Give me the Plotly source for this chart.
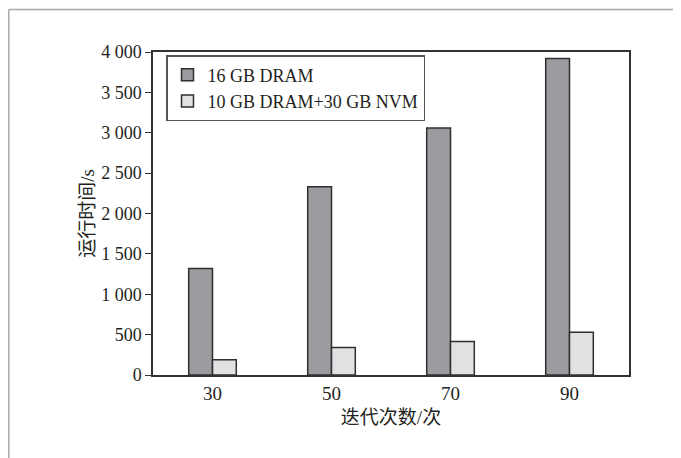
import plotly.graph_objects as go

categories = ["30", "50", "70", "90"]
dram_16gb = [1320, 2330, 3060, 3920]
dram_nvm = [190, 340, 415, 530]
series_names = ["16 GB DRAM", "10 GB DRAM+30 GB NVM"]
y_tickvals = [0, 500, 1000, 1500, 2000, 2500, 3000, 3500, 4000]
y_ticktext = ["0", "500", "1 000", "1 500", "2 000", "2 500", "3 000", "3 500", "4 000"]

FONT = "Liberation Serif, Times New Roman, Noto Sans CJK SC, serif"
TXT = "#231f20"

fig = go.Figure()
fig.add_trace(go.Bar(x=categories, y=dram_16gb, name=series_names[0],
                     marker=dict(color="#9b9ca0", line=dict(color="#2f2f2f", width=1.5))))
fig.add_trace(go.Bar(x=categories, y=dram_nvm, name=series_names[1],
                     marker=dict(color="#e0e1e3", line=dict(color="#2f2f2f", width=1.5))))

# page has an 8px body margin; work in figure coordinates
OFF = 8
W, H = 681, 458
L, R, T = 153 - OFF, 681 - (629 - OFF), 52 - OFF
B = H - (375 - OFF)
pw, ph = W - L - R, H - T - B

def px(xp):
    return (xp - OFF - L) / pw

def py(yp):
    return (H - B - (yp - OFF)) / ph

fig.update_layout(
    width=W, height=H,
    margin=dict(l=L, r=R, t=T, b=B),
    paper_bgcolor="white", plot_bgcolor="white",
    barmode="group", bargap=0.6, bargroupgap=0,
    font=dict(family=FONT, size=18, color=TXT),
    showlegend=True,
    legend=dict(x=px(166), y=py(55), xanchor="left", yanchor="top",
                bgcolor="white", bordercolor="#555555", borderwidth=1.5,
                font=dict(family=FONT, size=18, color=TXT),
                itemwidth=30, tracegroupgap=0),
    xaxis=dict(type="category", range=[-0.5, 3.5], showline=True, linecolor="#333333",
               linewidth=1.5, mirror=True, ticks="", showgrid=False,
               tickfont=dict(family=FONT, size=19, color=TXT),
               title=dict(text="迭代次数/次", font=dict(family=FONT, size=19, color=TXT), standoff=8)),
    yaxis=dict(range=[0, 4000], tickvals=y_tickvals, ticktext=y_ticktext,
               showline=True, linecolor="#333333", linewidth=1.5, mirror=True,
               ticks="outside", ticklen=6, tickcolor="#333333", tickwidth=1.2,
               showgrid=False, zeroline=False,
               tickfont=dict(family=FONT, size=18, color=TXT),
               title=dict(text="运行时间/s", font=dict(family=FONT, size=19, color=TXT), standoff=2)),
    shapes=[
        dict(type="line", xref="paper", yref="paper", x0=px(8.8), x1=px(690), y0=py(9.5), y1=py(9.5),
             line=dict(color="#a8a8a8", width=1.5)),
        dict(type="line", xref="paper", yref="paper", x0=px(8.8), x1=px(8.8), y0=py(9.5), y1=py(470),
             line=dict(color="#a8a8a8", width=1.5)),
    ],
)

fig.write_html("out.html")
